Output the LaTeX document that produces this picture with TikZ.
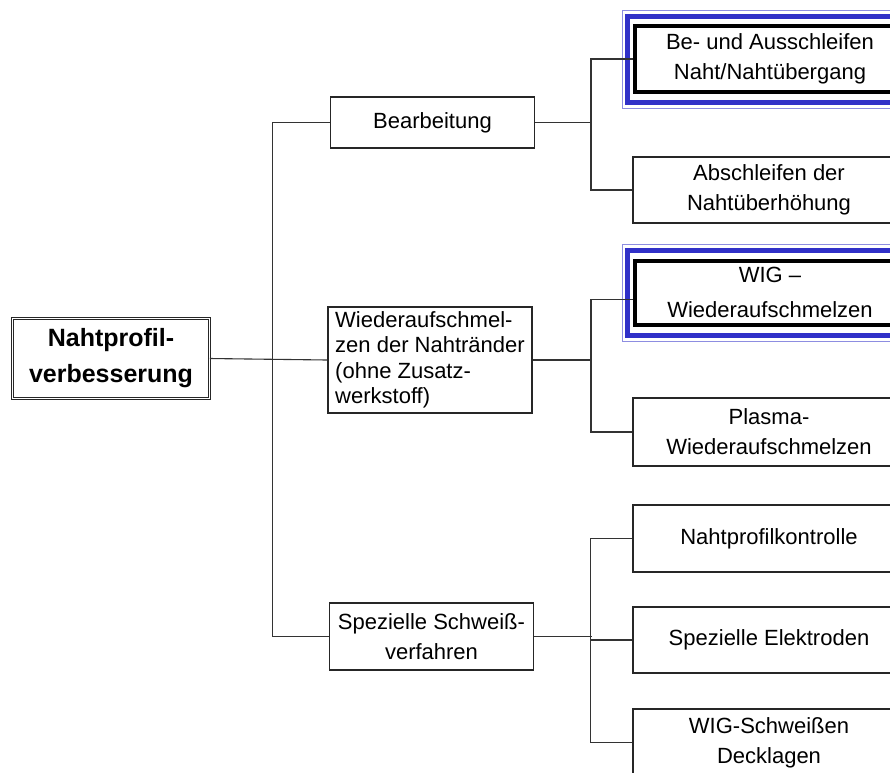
\documentclass[tikz,border=0pt]{standalone}
\usepackage{fontspec}
\setmainfont{Liberation Sans}
\usetikzlibrary{positioning, calc, fit}
\definecolor{frameblue}{RGB}{48,48,200}

\begin{document}
\begin{tikzpicture}[x=1pt, y=-1pt,
    box/.style={draw=black!85, line width=1.2pt, inner sep=0pt, align=center,
        font=\fontsize{22}{30}\selectfont},
    rootbox/.style={box, double, double distance=1.5pt, line width=0.9pt,
        font=\bfseries\fontsize{25}{36}\selectfont},
    midbox/.style={box, minimum width=204pt},
    rbox/.style={box, minimum width=272pt},
    markbox/.style={box, draw=black, line width=4pt, minimum width=270pt},
    bluefr/.style={draw=frameblue, line width=5pt, inner xsep=5.5pt, inner ysep=8pt},
    bluethin/.style={draw=frameblue!55, line width=0.8pt, inner xsep=11pt, inner ysep=14pt},
    conn/.style={draw=black!80, line width=1.1pt}]

    \fill[white] (0,0) rectangle (890,772);
    \clip (0,0) rectangle (890,772);

    % Wurzel
    \node[rootbox, minimum width=196.7pt, minimum height=79.7pt] (root) at (111,358.5) {Nahtprofil-\\verbesserung};

    % mittlere Ebene
    \node[midbox, minimum height=51pt] (bearb) at (432.5,122.5) {Bearbeitung};
    \node[midbox, minimum height=106pt, align=left, font=\fontsize{22}{25.5}\selectfont] (wieder) at (430,360)
        {Wiederaufschmel-\\zen der Nahtränder\\(ohne Zusatz-\\werkstoff)};
    \node[midbox, minimum height=67pt] (schw) at (431.5,636.5) {Spezielle Schweiß-\\verfahren};

    % rechte Ebene
    \node[markbox, minimum height=66pt] (schleif) at (770,59) {Be- und Ausschleifen\\Naht/Nahtübergang};
    \node[bluefr, fit=(schleif)] (schleif-f) {};
    \node[bluethin, fit=(schleif)] (schleif-t) {};
    \node[rbox, minimum height=66pt] (abschl) at (769,190) {Abschleifen der\\Nahtüberhöhung};

    \node[markbox, minimum height=64.5pt, font=\fontsize{22}{35}\selectfont] (wig) at (770,292.75) {WIG –\\Wiederaufschmelzen};
    \node[bluefr, fit=(wig)] (wig-f) {};
    \node[bluethin, fit=(wig)] (wig-t) {};
    \node[rbox, minimum height=68pt] (plasma) at (769,432) {Plasma-\\Wiederaufschmelzen};

    \node[rbox, minimum height=67pt] (kontr) at (769,538.5) {Nahtprofilkontrolle};
    \node[rbox, minimum height=66pt] (elektr) at (769,640) {Spezielle Elektroden};
    \node[rbox, minimum height=67pt] (wigdeck) at (769,742.5) {WIG-Schweißen\\Decklagen};

    % Verbindungen
    \draw[conn] (root.east) -- (wieder.west);
    \draw[conn] (bearb.west) -- ++(-57,0) |- (schw.west);

    \draw[conn] (bearb.east) -- ++(56,0);
    \draw[conn] (schleif.west) -- ++(-42,0) |- (abschl.west);

    \draw[conn] (wieder.east) -- ++(59,0);
    \draw[conn] ([yshift=-7pt]wig.west) -- ++(-42,0) |- (plasma.west);

    \draw[conn] (schw.east) -- ++(58,0);
    \draw[conn] (kontr.west) -- ++(-42,0) |- (wigdeck.west);
    \draw[conn] (elektr.west) -- ++(-42,0);
\end{tikzpicture}
\end{document}
